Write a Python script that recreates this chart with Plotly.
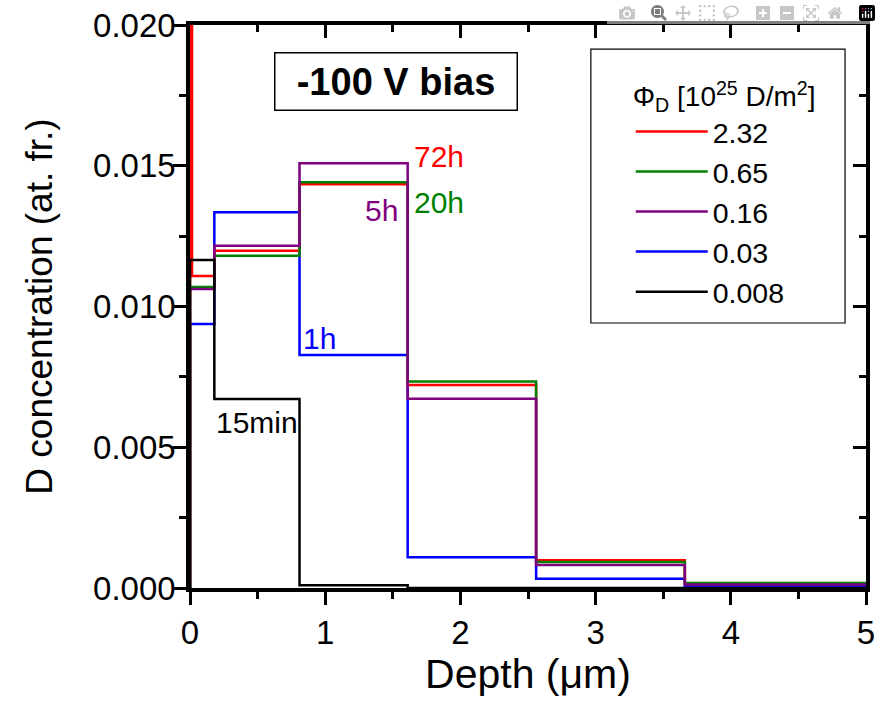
import plotly.graph_objects as go

# Bin edges of the depth profiles (µm)
edges = [0.0, 0.015, 0.18, 0.81, 1.61, 2.56, 3.66, 5.0]

# D concentration per bin (at. fr.), legend label = fluence [1e25 D/m2]
series_names = ["2.32", "0.65", "0.16", "0.03", "0.008"]
conc_232 = [0.0300, 0.01108, 0.01198, 0.01434, 0.00721, 0.00099, 0.00015]
conc_065 = [0.01069, 0.01069, 0.01180, 0.01441, 0.00734, 0.00092, 0.00018]
conc_016 = [0.01062, 0.01062, 0.01216, 0.01509, 0.00672, 0.00082, 0.00012]
conc_003 = [0.00938, 0.00938, 0.01335, 0.00828, 0.00109, 0.00033, 0.00008]
conc_0008 = [0.01165, 0.01165, 0.00671, 0.00010, 0.0, 0.0, 0.0]
colors = ["#FF0000", "#008000", "#800080", "#0000FF", "#000000"]

# Time labels
time_labels = ["72h", "20h", "5h", "1h", "15min"]
time_x = [1.64, 1.64, 1.55, 0.82, 0.18]
time_y = [0.01532, 0.01369, 0.01340, 0.00888, 0.00589]

FONT = "Liberation Sans, Arial, sans-serif"


def step_xy(vals):
    xs, ys = [edges[0]], [0.0]
    for i, v in enumerate(vals):
        xs += [edges[i], edges[i + 1]]
        ys += [v, v]
    return xs, ys


all_series = [conc_232, conc_065, conc_016, conc_003, conc_0008]
draw_order = [3, 0, 1, 2, 4]

fig = go.Figure()
for idx in draw_order:
    xs, ys = step_xy(all_series[idx])
    fig.add_trace(go.Scatter(
        x=xs, y=ys, mode="lines", name=series_names[idx],
        line=dict(color=colors[idx], width=2.5),
        legendrank=idx + 1, hoverinfo="skip",
    ))

# empty trace for the top/right frame axes
fig.add_trace(go.Scatter(x=[None], y=[None], xaxis="x2", yaxis="y2",
                         showlegend=False, hoverinfo="skip"))

for lab, tx, ty, c in zip(time_labels, time_x, time_y, colors):
    anchor = "right" if lab == "5h" else "left"
    fig.add_annotation(x=tx, y=ty, text=lab, showarrow=False,
                       xanchor=anchor, yanchor="middle",
                       font=dict(family=FONT, size=30, color=c))

fig.add_annotation(x=1.527, y=0.01801, text="<b>-100 V bias</b>", showarrow=False,
                   xanchor="center", yanchor="middle",
                   width=233, height=48, borderpad=4,
                   bordercolor="black", borderwidth=1.5,
                   bgcolor="white",
                   font=dict(family=FONT, size=38, color="black"))

# legend frame (paper coordinates)
fig.add_shape(type="rect", xref="paper", yref="paper",
              x0=0.593, x1=0.969, y0=0.4707, y1=0.957,
              line=dict(color="black", width=1.2), layer="above")

axis_common = dict(showgrid=False, zeroline=False, showline=True,
                   linecolor="black", linewidth=3.5, tickcolor="black",
                   tickwidth=2.5, ticklen=13, automargin=False,
                   ticklabeloverflow="allow")

fig.update_layout(
    width=881, height=701,
    margin=dict(l=190, r=15, t=25, b=113),
    paper_bgcolor="white", plot_bgcolor="white",
    font=dict(family=FONT, size=32, color="black"),
    xaxis=dict(range=[0, 5], ticks="outside", dtick=1, tick0=0, mirror=True,
               tickfont=dict(size=33),
               minor=dict(ticks="outside", dtick=0.5, ticklen=7,
                          tickwidth=2.5, tickcolor="black"),
               title=dict(text="Depth (μm)", font=dict(size=41), standoff=0),
               **axis_common),
    yaxis=dict(range=[0, 0.02], ticks="outside", dtick=0.005, tick0=0, mirror=True,
               tickformat=".3f", tickfont=dict(size=33), ticklabelstandoff=-9,
               minor=dict(ticks="outside", dtick=0.0025, ticklen=7,
                          tickwidth=2.5, tickcolor="black"),
               title=dict(text="D concentration (at. fr.)", font=dict(size=37),
                          standoff=30),
               **axis_common),
    xaxis2=dict(range=[0, 5], overlaying="x", side="top", anchor="y",
                ticks="inside", dtick=1, tick0=0, showticklabels=False,
                minor=dict(ticks="inside", dtick=0.5, ticklen=7,
                           tickwidth=2.5, tickcolor="black"),
                **axis_common),
    yaxis2=dict(range=[0, 0.02], overlaying="y", side="right", anchor="x",
                ticks="inside", dtick=0.005, tick0=0, showticklabels=False,
                minor=dict(ticks="inside", dtick=0.0025, ticklen=7,
                           tickwidth=2.5, tickcolor="black"),
                **axis_common),
    legend=dict(x=0.652, y=0.92, xanchor="left", yanchor="top",
                borderwidth=0, bgcolor="rgba(255,255,255,0)",
                font=dict(size=28.5), itemwidth=72, tracegroupgap=0,
                title=dict(text="Φ<sub>D</sub> [10<sup>25</sup> D/m<sup>2</sup>]",
                           font=dict(size=28)),
                ),
)

fig.write_html(
    "out.html",
    post_script="document.body.style.margin='0';document.body.style.overflow='hidden';",
)
